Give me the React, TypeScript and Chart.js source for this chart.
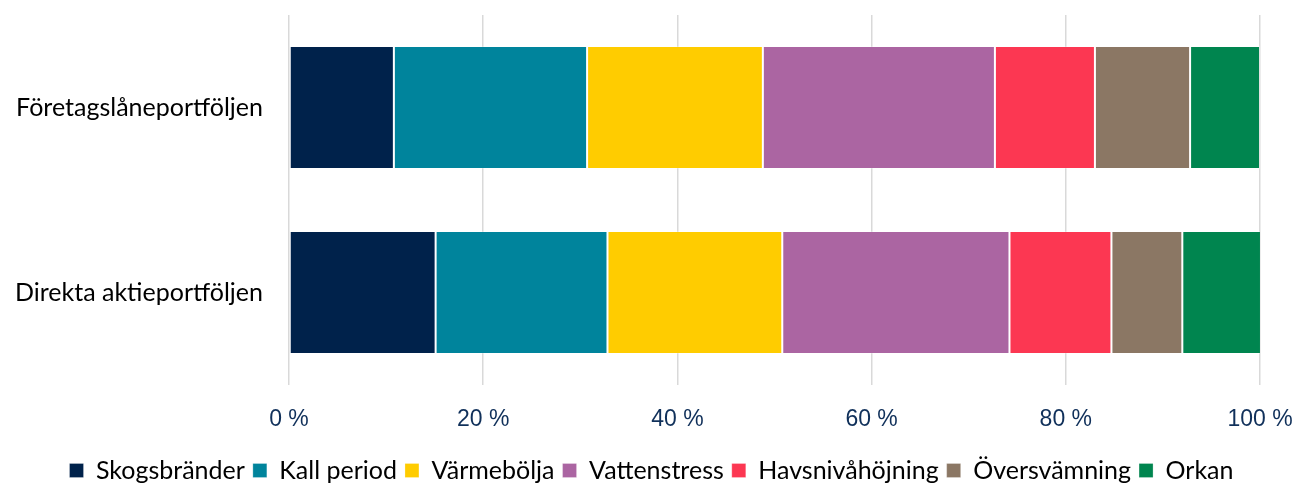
import React, { useEffect, useRef } from "react";
import { Chart, registerables } from "chart.js";

Chart.register(...registerables);

const categories = ["Företagslåneportföljen", "Direkta aktieportföljen"];
const seriesNames = ["Skogsbränder", "Kall period", "Värmebölja", "Vattenstress", "Havsnivåhöjning", "Översvämning", "Orkan"];
const skogsbrander = [10.8, 15.1];
const kallPeriod = [19.9, 17.7];
const varmebolja = [18.1, 18.0];
const vattenstress = [23.9, 23.4];
const havsnivahojning = [10.3, 10.5];
const oversvamning = [9.8, 7.3];
const orkan = [7.2, 8.1];
const seriesColors = ["#00224B", "#00849C", "#FFCC00", "#AB65A2", "#FC3752", "#8B7764", "#00854F"];
const xTicks = [0, 20, 40, 60, 80, 100];

export default function App() {
  const ref = useRef<HTMLCanvasElement | null>(null);
  useEffect(() => {
    if (!ref.current) return;
    const values = [skogsbrander, kallPeriod, varmebolja, vattenstress, havsnivahojning, oversvamning, orkan];
    const chart = new Chart(ref.current, {
      type: "bar",
      data: {
        labels: categories,
        datasets: seriesNames.map((name, i) => ({
          label: name,
          data: values[i],
          backgroundColor: seriesColors[i],
          borderColor: "rgba(255,255,255,0.25)",
          borderWidth: 1,
          borderSkipped: false,
          barPercentage: 0.665,
          categoryPercentage: 1,
        })),
      },
      options: {
        indexAxis: "y",
        animation: false,
        responsive: true,
        maintainAspectRatio: false,
        layout: { padding: { top: 15, right: 0, left: 9, bottom: -10 } },
        plugins: {
          tooltip: { enabled: false },
          legend: {
            position: "bottom",
            labels: {
              boxWidth: 14,
              boxHeight: 14,
              padding: 8,
              color: "#000000",
              font: { family: "Lato", size: 25 },
            },
          },
        },
        scales: {
          x: {
            stacked: true,
            min: 0,
            max: 100,
            afterBuildTicks: (scale: any) => {
              scale.ticks = xTicks.map((v) => ({ value: v }));
            },
            afterFit: (scale: any) => {
              scale.height = 65;
              scale.paddingLeft = 0;
              scale.paddingRight = 34;
            },
            grid: { color: "#D9D9D9", lineWidth: 1.5, drawTicks: false },
            border: { display: false },
            ticks: {
              padding: 21,
              color: "#10305A",
              font: { family: "Liberation Sans", size: 23 },
              callback: (v: any) => v + " %",
              maxRotation: 0,
            },
          },
          y: {
            stacked: true,
            afterFit: (scale: any) => {
              scale.width = 280;
              scale.paddingTop = 0;
              scale.paddingBottom = 0;
            },
            grid: { display: false, drawTicks: false },
            border: { display: false },
            ticks: {
              padding: 26,
              color: "#000000",
              font: { family: "Lato", size: 25 },
            },
          },
        },
      },
    });
    return () => chart.destroy();
  }, []);
  return (
    <div style={{ position: "fixed", left: 0, top: 0, width: 1294, height: 483, background: "#ffffff" }}>
      <canvas ref={ref} />
    </div>
  );
}
